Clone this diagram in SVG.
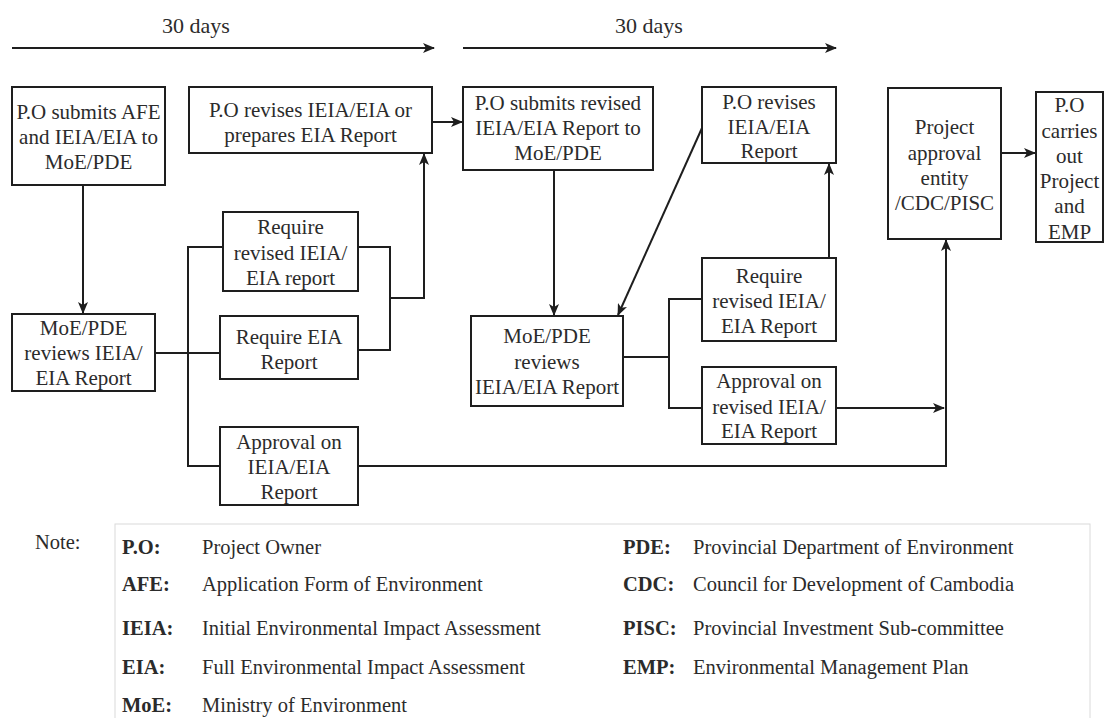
<svg xmlns="http://www.w3.org/2000/svg" width="1105" height="718" viewBox="0 0 1105 718">
<style>
.box{fill:#fff;stroke:#1e1e1e;stroke-width:2}
.t{font-family:"Liberation Serif","Times New Roman",serif;font-size:21px;fill:#2b2b2b;text-anchor:middle}
.d{font-family:"Liberation Serif","Times New Roman",serif;font-size:22px;fill:#2b2b2b;text-anchor:middle}
.c{fill:none;stroke:#1e1e1e;stroke-width:2}
.lg{font-family:"Liberation Serif","Times New Roman",serif;font-size:20.5px;fill:#2b2b2b}
.b{font-weight:bold}
</style>
<defs>
<marker id="ar" viewBox="0 0 12 10" refX="11" refY="5" markerWidth="12" markerHeight="10" markerUnits="userSpaceOnUse" orient="auto">
<path d="M0,0 L12,5 L0,10 L3,5 z" fill="#1e1e1e"/>
</marker>
</defs>
<rect width="1105" height="718" fill="#fff"/>

<g id="timeline">
<text class="d" x="196" y="33">30 days</text>
<line class="c" x1="12" y1="48" x2="434" y2="48" marker-end="url(#ar)"/>
<text class="d" x="649" y="33">30 days</text>
<line class="c" x1="463" y1="48" x2="836" y2="48" marker-end="url(#ar)"/>
</g>

<g id="connectors">
<line class="c" x1="83" y1="185" x2="83" y2="313" marker-end="url(#ar)"/>
<polyline class="c" points="155,353 220,353"/>
<polyline class="c" points="223,247 188,247 188,466 220,466"/>
<polyline class="c" points="358,247 390,247 390,350 358,350"/>
<polyline class="c" points="390,298 424,298 424,154" marker-end="url(#ar)"/>
<line class="c" x1="432" y1="122" x2="462" y2="122" marker-end="url(#ar)"/>
<line class="c" x1="554" y1="170" x2="554" y2="315" marker-end="url(#ar)"/>
<line class="c" x1="702" y1="128" x2="618" y2="315" marker-end="url(#ar)"/>
<polyline class="c" points="623,357 669,357"/>
<polyline class="c" points="702,299 669,299 669,408 702,408"/>
<line class="c" x1="829" y1="258" x2="829" y2="164" marker-end="url(#ar)"/>
<line class="c" x1="836" y1="408" x2="944" y2="408" marker-end="url(#ar)"/>
<polyline class="c" points="358,466 946,466 946,240" marker-end="url(#ar)"/>
<line class="c" x1="1001" y1="153" x2="1035" y2="153" marker-end="url(#ar)"/>
</g>

<g id="n1"><rect class="box" x="12" y="87" width="153" height="98"/>
<text class="t" x="88.5" y="119">P.O submits AFE</text>
<text class="t" x="88.5" y="144">and IEIA/EIA  to</text>
<text class="t" x="88.5" y="169">MoE/PDE</text></g>

<g id="n2"><rect class="box" x="189" y="87" width="243" height="66"/>
<text class="t" x="310.5" y="117">P.O revises IEIA/EIA  or</text>
<text class="t" x="310.5" y="142">prepares EIA Report</text></g>

<g id="n3"><rect class="box" x="463" y="87" width="190" height="83"/>
<text class="t" x="558" y="110">P.O submits revised</text>
<text class="t" x="558" y="135">IEIA/EIA  Report to</text>
<text class="t" x="558" y="160">MoE/PDE</text></g>

<g id="n4"><rect class="box" x="702" y="87" width="134" height="76"/>
<text class="t" x="769" y="109">P.O revises</text>
<text class="t" x="769" y="134">IEIA/EIA</text>
<text class="t" x="769" y="158">Report</text></g>

<g id="n5"><rect class="box" x="888" y="88" width="113" height="151"/>
<text class="t" x="944.5" y="134">Project</text>
<text class="t" x="944.5" y="160">approval</text>
<text class="t" x="944.5" y="185">entity</text>
<text class="t" x="944.5" y="210">/CDC/PISC</text></g>

<g id="n6"><rect class="box" x="1036" y="92" width="67" height="150"/>
<text class="t" x="1069.5" y="112">P.O</text>
<text class="t" x="1069.5" y="138">carries</text>
<text class="t" x="1069.5" y="163">out</text>
<text class="t" x="1069.5" y="188">Project</text>
<text class="t" x="1069.5" y="213">and</text>
<text class="t" x="1069.5" y="239">EMP</text></g>

<g id="n7"><rect class="box" x="12" y="314" width="143" height="77"/>
<text class="t" x="83.5" y="335">MoE/PDE</text>
<text class="t" x="83.5" y="360">reviews IEIA/</text>
<text class="t" x="83.5" y="385">EIA Report</text></g>

<g id="n8"><rect class="box" x="223" y="212" width="135" height="79"/>
<text class="t" x="290.5" y="234">Require</text>
<text class="t" x="290.5" y="260">revised IEIA/</text>
<text class="t" x="290.5" y="285">EIA report</text></g>

<g id="n9"><rect class="box" x="220" y="316" width="138" height="63"/>
<text class="t" x="289" y="344">Require EIA</text>
<text class="t" x="289" y="369">Report</text></g>

<g id="n10"><rect class="box" x="220" y="427" width="138" height="78"/>
<text class="t" x="289" y="449">Approval on</text>
<text class="t" x="289" y="474">IEIA/EIA</text>
<text class="t" x="289" y="499">Report</text></g>

<g id="n11"><rect class="box" x="471" y="316" width="152" height="90"/>
<text class="t" x="547" y="343">MoE/PDE</text>
<text class="t" x="547" y="369">reviews</text>
<text class="t" x="547" y="394">IEIA/EIA  Report</text></g>

<g id="n12"><rect class="box" x="702" y="258" width="134" height="83"/>
<text class="t" x="769" y="283">Require</text>
<text class="t" x="769" y="308">revised IEIA/</text>
<text class="t" x="769" y="333">EIA Report</text></g>

<g id="n13"><rect class="box" x="702" y="367" width="134" height="77"/>
<text class="t" x="769" y="388">Approval on</text>
<text class="t" x="769" y="414">revised IEIA/</text>
<text class="t" x="769" y="438">EIA Report</text></g>

<g id="legend">
<rect x="115" y="524" width="975" height="210" fill="none" stroke="#dadada" stroke-width="1"/>
<text class="lg" x="35" y="549">Note:</text>
<text class="lg b" x="122" y="554">P.O:</text><text class="lg" x="202" y="554">Project Owner</text>
<text class="lg b" x="122" y="591">AFE:</text><text class="lg" x="202" y="591">Application Form of Environment</text>
<text class="lg b" x="122" y="635">IEIA:</text><text class="lg" x="202" y="635">Initial Environmental Impact Assessment</text>
<text class="lg b" x="122" y="674">EIA:</text><text class="lg" x="202" y="674">Full Environmental Impact Assessment</text>
<text class="lg b" x="122" y="712">MoE:</text><text class="lg" x="202" y="712">Ministry of Environment</text>
<text class="lg b" x="623" y="554">PDE:</text><text class="lg" x="693" y="554">Provincial Department of Environment</text>
<text class="lg b" x="623" y="591">CDC:</text><text class="lg" x="693" y="591">Council for Development of Cambodia</text>
<text class="lg b" x="623" y="635">PISC:</text><text class="lg" x="693" y="635">Provincial Investment Sub-committee</text>
<text class="lg b" x="623" y="674">EMP:</text><text class="lg" x="693" y="674">Environmental Management Plan</text>
</g>
</svg>
